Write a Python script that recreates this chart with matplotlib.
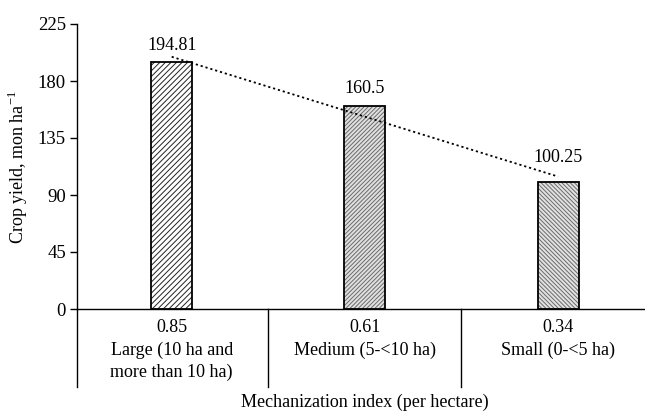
import numpy as np
import matplotlib
matplotlib.use("Agg")
import matplotlib.pyplot as plt
from matplotlib.lines import Line2D

plt.rcParams['font.family'] = ['Liberation Serif', 'DejaVu Serif']
plt.rcParams['hatch.linewidth'] = 0.7

categories = ["Large (10 ha and\nmore than 10 ha)", "Medium (5-<10 ha)", "Small (0-<5 ha)"]
mech_index = ["0.85", "0.61", "0.34"]
yield_values = [194.81, 160.5, 100.25]
value_labels = ["194.81", "160.5", "100.25"]
yticks = [0, 45, 90, 135, 180, 225]

W, H = 645, 416
fig = plt.figure(figsize=(W / 100, H / 100), dpi=100)
ax_l, ax_r, ax_b, ax_t = 77, 645, 309, 24
ax = fig.add_axes([ax_l / W, (H - ax_b) / H, (ax_r - ax_l) / W, (ax_b - ax_t) / H])

FS = 13
x = np.arange(len(yield_values))
styles = [
    dict(facecolor='white', hatch='//////', hatchc='#222222'),
    dict(facecolor='#e0e0e0', hatch='////////', hatchc='#6a6a6a'),
    dict(facecolor='#e2e2e2', hatch='\\\\\\\\\\\\\\\\', hatchc='#6a6a6a'),
]
for xi, v, st in zip(x, yield_values, styles):
    ax.bar(xi, v, width=0.212, facecolor=st['facecolor'], edgecolor=st['hatchc'],
           hatch=st['hatch'], linewidth=0, zorder=2)
    ax.bar(xi, v, width=0.212, facecolor='none', edgecolor='black', linewidth=1.3, zorder=3)

label_offsets_px = [17, 17, 25]
for xi, v, lab, off in zip(x, yield_values, value_labels, label_offsets_px):
    ax.annotate(lab, (xi, v), xytext=(0, off * 0.72), textcoords='offset points',
                ha='center', va='center', fontsize=FS)

# linear trend line
coef = np.polyfit(x, yield_values, 1)
xt = np.array([x[0], x[-1]])
ax.plot(xt, np.polyval(coef, xt), linestyle=(0, (1.2, 1.6)), color='black', linewidth=1.3, zorder=4)

ax.set_xlim(-0.49, 2.45)
ax.set_ylim(0, 225)
ax.set_yticks(yticks)
ax.set_xticks([])
ax.spines['top'].set_visible(False)
ax.spines['right'].set_visible(False)
ax.spines['left'].set_bounds(0, 225)
ax.spines['left'].set_linewidth(1.0)
ax.spines['bottom'].set_linewidth(1.0)
ax.tick_params(axis='y', direction='out', length=5, width=1.0, labelsize=13.5, pad=3)


def fx(px):
    return px / W


def fy(py):
    return 1 - py / H


fig.text(fx(18), fy(167), "Crop yield, mon ha$^{\\mathregular{-1}}$", rotation=90,
         ha='center', va='center', fontsize=FS)

# table below axis
div_x = [x[0] - 0.5 * (x[1] - x[0])] + [(a + b) / 2 for a, b in zip(x[:-1], x[1:])]
for dx in div_x:
    px = ax.transData.transform((dx, 0))[0]
    px = max(px, ax_l)
    fig.add_artist(Line2D([px / W, px / W], [fy(309), fy(387)], color='black', linewidth=1.0))

for xi, mi, cat in zip(x, mech_index, categories):
    cx = ax.transData.transform((xi, 0))[0]
    fig.text(fx(cx), fy(328), mi, ha='center', va='center', fontsize=FS)
    fig.text(fx(cx), fy(342), cat, ha='center', va='top', fontsize=FS, linespacing=1.3)

cx_mid = ax.transData.transform((x[1], 0))[0]
fig.text(fx(cx_mid), fy(402), "Mechanization index (per hectare)", ha='center', va='center', fontsize=FS)

fig.savefig("out.png", dpi=100)
